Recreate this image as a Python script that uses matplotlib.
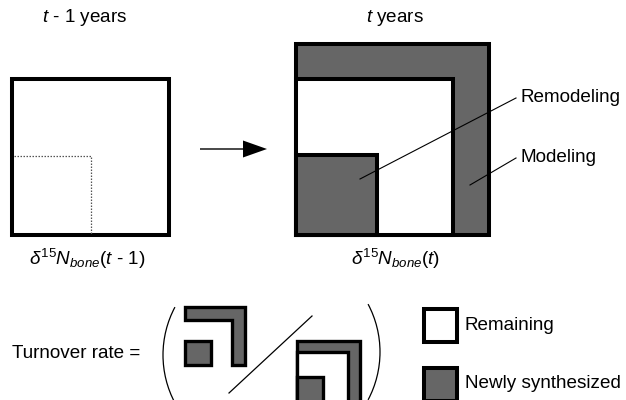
import matplotlib
matplotlib.use("Agg")
import matplotlib.pyplot as plt
from matplotlib.patches import Rectangle, Polygon, Arc, FancyArrow

plt.rcParams['font.family'] = ['Liberation Sans', 'DejaVu Sans']
plt.rcParams['mathtext.fontset'] = 'custom'
plt.rcParams['mathtext.it'] = 'Liberation Sans:italic'
plt.rcParams['mathtext.rm'] = 'Liberation Sans'
plt.rcParams['mathtext.bf'] = 'Liberation Sans:bold'

GRAY = '#666666'
FS = 13.6

# Texts
title_left = r'$t$ - $\mathit{1}$ years'
title_right = r'$t$ years'
label_left = r'$\mathit{\delta}^{\mathit{15}}\mathit{N}_{\mathit{bone}}\mathit{(t}$ - $\mathit{1)}$'
label_right = r'$\mathit{\delta}^{\mathit{15}}\mathit{N}_{\mathit{bone}}\mathit{(t)}$'
callouts = ['Remodeling', 'Modeling']
legend_labels = ['Remaining', 'Newly synthesized']
formula_text = 'Turnover rate ='

# Geometry (pixel space, stroke centres)
left_box = (12, 79, 157, 156)         # x, y, w, h
left_dotted = (14, 156, 77, 79)
right_outer = (296, 44, 193, 191)
right_inner = (296, 79, 157, 156)
right_small = (296, 155, 81, 80)
arrow_xy = (200, 149, 43, 0)

fig = plt.figure(figsize=(6.26, 4.0), dpi=100)
ax = fig.add_axes([0, 0, 1, 1])
ax.set_xlim(0, 626)
ax.set_ylim(400, 0)
ax.axis('off')

LW = 2.9

def rect(r, fc, lw=LW, **kw):
    x, y, w, h = r
    ax.add_patch(Rectangle((x, y), w, h, facecolor=fc, edgecolor='black',
                           linewidth=lw, joinstyle='miter', **kw))

# left box
rect(left_box, 'white')
x, y, w, h = left_dotted
ax.plot([x, x + w, x + w], [y, y, y + h], color='#555555', lw=0.9,
        linestyle=(0, (1.2, 1.2)))

# arrow
ax.add_patch(FancyArrow(arrow_xy[0], arrow_xy[1], arrow_xy[2], arrow_xy[3],
                        width=1.4, head_width=17, head_length=24,
                        length_includes_head=False, color='black', lw=0))

# right box
rect(right_outer, GRAY)
rect(right_inner, 'white')
rect(right_small, GRAY)

# callouts
ax.plot([360, 516], [179, 98], color='black', lw=0.8)
ax.plot([470, 516], [185, 158], color='black', lw=0.8)
ax.text(521, 98, callouts[0], fontsize=FS, va='center', ha='left')
ax.text(521, 158, callouts[1], fontsize=FS, va='center', ha='left')

# titles & labels
ax.text(85, 18, title_left, fontsize=FS, ha='center', va='center')
ax.text(395, 18, title_right, fontsize=FS, ha='center', va='center')
ax.text(87, 259, label_left, fontsize=FS, ha='center', va='center')
ax.text(396, 259, label_right, fontsize=FS, ha='center', va='center')

# formula
ax.text(12, 353, formula_text, fontsize=FS, ha='left', va='center')
ax.add_patch(Arc((265, 355), 204, 204, theta1=152, theta2=208, color='black', lw=0.9))
ax.add_patch(Arc((278, 352), 204, 204, theta1=-28, theta2=28, color='black', lw=0.9))
ax.plot([229, 312], [393, 316], color='black', lw=0.9)

LW2 = 2.4
# numerator: L shape + small square
ax.add_patch(Polygon([(185, 307), (245, 307), (245, 365), (232, 365), (232, 320), (185, 320)],
                     closed=True, facecolor=GRAY, edgecolor='black', lw=LW2, joinstyle='miter'))
rect((185, 341, 26, 24), GRAY, lw=LW2)

# denominator: mini version of right box
s = 0.325
ox, oy = 297, 341
for r, fc in [(right_outer, GRAY), (right_inner, 'white'), (right_small, GRAY)]:
    x, y, w, h = r
    rect((ox + (x - right_outer[0]) * s, oy + (y - right_outer[1]) * s, w * s, h * s), fc, lw=LW2)

# legend
rect((424, 309, 33, 33), 'white', lw=LW)
rect((424, 368, 33, 33), GRAY, lw=LW)
ax.text(465, 325, legend_labels[0], fontsize=FS, ha='left', va='center')
ax.text(465, 383, legend_labels[1], fontsize=FS, ha='left', va='center')

fig.savefig('out.png', dpi=100)
